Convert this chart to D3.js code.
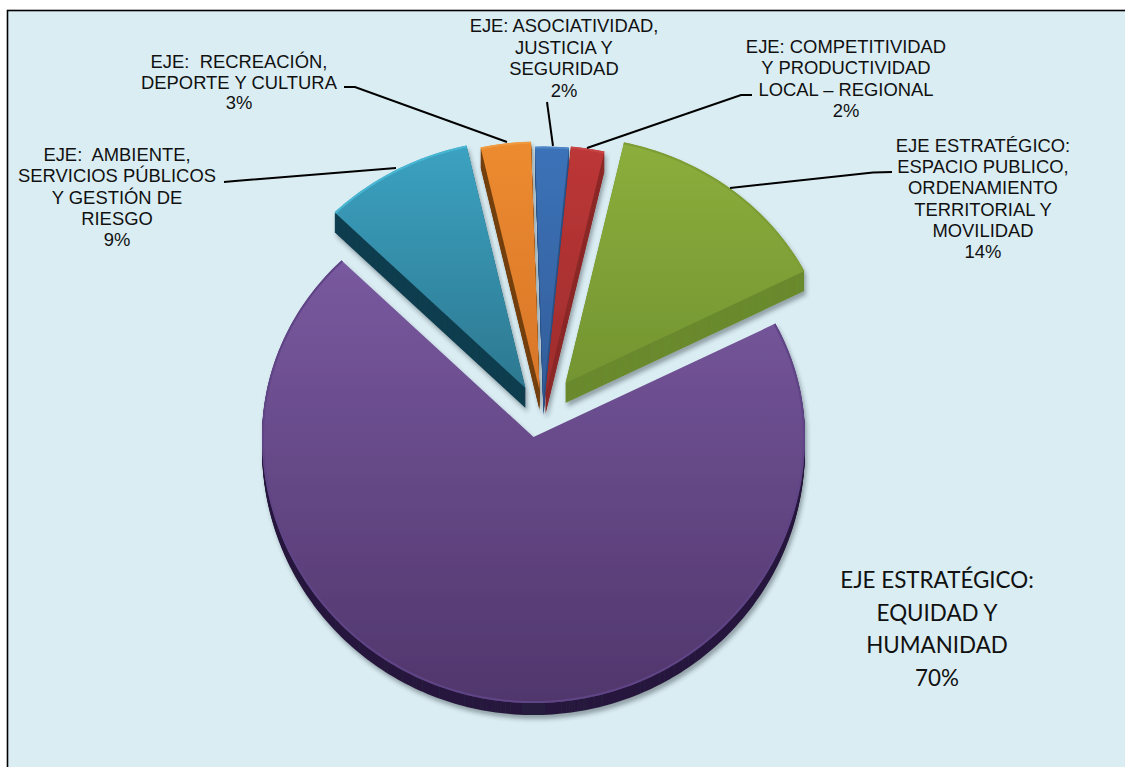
<!DOCTYPE html>
<html>
<head>
<meta charset="utf-8">
<title>Ejes estrategicos</title>
<script src="https://cdn.jsdelivr.net/npm/d3@7"></script>
<style>
	html, body { margin: 0; padding: 0; background: #fff; overflow: hidden; }
	svg { display: block; }
	text { fill: #111; white-space: pre; text-anchor: middle; }
	.lbl { font-family: "Liberation Sans", Arial, sans-serif; font-size: 18.4px; }
	.lbl-big { font-family: Lato, "Noto Sans", sans-serif; font-size: 22.4px; }
</style>
</head>
<body>
<div id="board"></div>
<script>
// data, clockwise from the big slice
var categories = [
	["EJE ESTRATÉGICO:", "EQUIDAD Y", "HUMANIDAD"],
	["EJE:  AMBIENTE,", "SERVICIOS PÚBLICOS", "Y GESTIÓN DE", "RIESGO"],
	["EJE:  RECREACIÓN,", "DEPORTE Y CULTURA"],
	["EJE: ASOCIATIVIDAD,", "JUSTICIA Y", "SEGURIDAD"],
	["EJE: COMPETITIVIDAD", "Y PRODUCTIVIDAD", "LOCAL – REGIONAL"],
	["EJE ESTRATÉGICO:", "ESPACIO PUBLICO,", "ORDENAMIENTO", "TERRITORIAL Y", "MOVILIDAD"]
];
var values = [70, 9, 3, 2, 2, 14];

// colours: gradient top, gradient bottom, side, rim
var topColors = ["#79599f", "#3ba2c1", "#ec8b2f", "#3b72b8", "#bd3737", "#8bae3c"];
var botColors = ["#50366c", "#2d7890", "#d8762a", "#345e9a", "#9e2c2c", "#739431"];
var sideColors = ["#281a3e", "#123f50", "#74400f", "#2d5488", "#8c2a28", "#6b8a2e"];
var rimColors = ["#5f4485", "#4ab7d3", "#f09a40", "#4f86c8", "#c94444", "#7d9c36"];

// layout
var W = 1125, H = 767;
var cx = 533.5, cy = 437;
var tiltTop = 0.92, tiltBottom = 0.98;
var radii = [271.5, 270, 270, 270, 270, 268];
var pulls = [[0, 0], [-8, -49], [6, -47], [10, -42], [12, -43], [32, -54]];
var depths = [12, 20, 20, 20, 20, 20];
var labelX = [937, 117, 239, 564, 846, 983];
var labelY = [588, 161, 68, 32, 53, 152];
var lineGap = [32.7, 21.3, 20.7, 21.5, 21.3, 21.2];
var leaders = [
	null,
	[[224, 182], [235, 181], [396, 168]],
	[[344, 87], [355, 87], [507, 142]],
	[[547, 102], [553, 146]],
	[[752, 95], [741, 95], [587, 148]],
	[[892, 172], [873, 172.5], [730, 188]]
];

var svg = d3.select("#board").append("svg").attr("width", W).attr("height", H);
var defs = svg.append("defs");

var shadow = defs.append("filter").attr("id", "shadow")
	.attr("x", "-10%").attr("y", "-10%").attr("width", "120%").attr("height", "120%");
shadow.append("feDropShadow").attr("dx", 2).attr("dy", 4).attr("stdDeviation", 2.2)
	.attr("flood-color", "#20303a").attr("flood-opacity", 0.4);

values.forEach(function(v, i){
	var g = defs.append("linearGradient").attr("id", "grad" + i)
		.attr("x1", 0).attr("y1", 0).attr("x2", 0).attr("y2", 1);
	g.append("stop").attr("offset", "0%").attr("stop-color", topColors[i]);
	g.append("stop").attr("offset", "100%").attr("stop-color", botColors[i]);
});

// background with the frame (only top and left fall inside the picture)
svg.append("rect").attr("x", 7.5).attr("y", 10.5)
	.attr("width", W + 20).attr("height", H + 20)
	.attr("fill", "#daedf3").attr("stroke", "#000").attr("stroke-width", 1.6);

var rad = Math.PI / 180;
var pie = d3.pie().sort(null).startAngle(63 * rad).endAngle(423 * rad);
var arcs = pie(values);

// egg shape: the far half of the pie looks flatter than the near one
function project(a, r){
	var y = -r * Math.cos(a);
	return [r * Math.sin(a), y * (y < 0 ? tiltTop : tiltBottom)];
}
var line = d3.line();

function rimPoints(d, r){
	var n = Math.max(8, Math.ceil((d.endAngle - d.startAngle) / rad));
	return d3.range(n + 1).map(function(k){
		return project(d.startAngle + (d.endAngle - d.startAngle) * k / n, r);
	});
}
function slicePath(d, r){
	return line([[0, 0]].concat(rimPoints(d, r))) + "Z";
}

// draw order: big slice, then around from the left so the tips overlap right
arcs.forEach(function(d, i){
	var g = svg.append("g").attr("filter", "url(#shadow)")
		.attr("transform", "translate(" + (cx + pulls[i][0]) + "," + (cy + pulls[i][1]) + ")");
	var path = slicePath(d, radii[i]);
	g.selectAll(".side")
		.data(d3.range(depths[i], 0, -1))
		.enter().append("path")
		.attr("class", "side")
		.attr("d", path)
		.attr("fill", sideColors[i])
		.attr("transform", function(k){ return "translate(0," + k + ")"; });
	g.append("path").attr("d", path).attr("fill", "url(#grad" + i + ")");
	g.append("path").attr("d", line(rimPoints(d, radii[i] - 1)))
		.attr("fill", "none").attr("stroke", rimColors[i]).attr("stroke-width", 2);
});

// leader lines
leaders.forEach(function(pts){
	if(!pts) return;
	svg.append("path").attr("d", line(pts))
		.attr("fill", "none").attr("stroke", "#000").attr("stroke-width", 2);
});

// labels
categories.forEach(function(lines, i){
	var t = svg.append("text").attr("class", i == 0 ? "lbl-big" : "lbl");
	lines.concat([values[i] + "%"]).forEach(function(s, k){
		t.append("tspan").attr("x", labelX[i]).attr("y", labelY[i] + k * lineGap[i]).text(s);
	});
});
</script>
</body>
</html>
